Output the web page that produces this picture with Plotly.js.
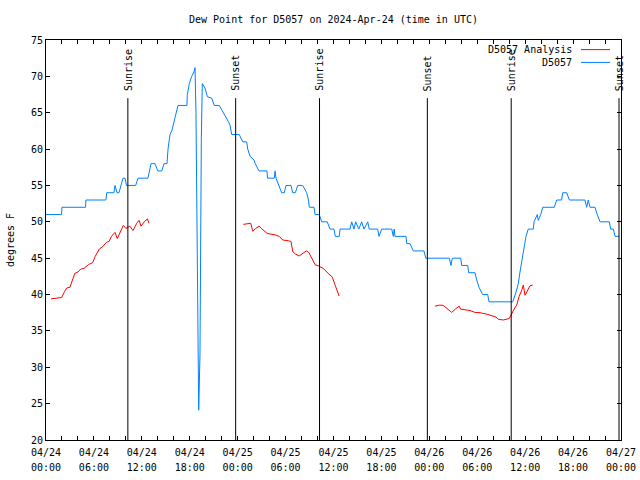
<!DOCTYPE html>
<html>
<head>
<meta charset="utf-8">
<script src="https://cdn.plot.ly/plotly-3.0.1.min.js"></script>
<style>html,body{margin:0;padding:0;background:#fff}#chart{width:640px;height:480px}</style>
</head>
<body>
<div id="chart"></div>
<script>
// Hours since 2024-04-24 00:00 UTC
const obsHours = [0,1.94,2.0,4.95,5.0,7.5,7.6,8.5,8.64,8.9,9.14,9.4,9.64,9.9,10.08,11.23,11.52,12.77,13.15,13.65,14.0,14.5,14.78,15.15,15.28,15.53,15.78,16.15,16.53,17.65,17.69,17.94,18.24,18.53,18.66,18.78,18.87,19.0,19.07,19.12,19.28,19.34,19.45,19.57,19.91,20.2,20.75,21.07,21.7,22.0,22.41,22.83,23.04,23.25,24.2,24.38,24.63,25.13,25.26,25.55,26.05,26.2,26.67,27.67,27.74,28.59,28.68,28.8,29.14,29.51,29.84,30.05,30.68,30.89,31.22,31.52,32.14,32.64,32.87,32.97,33.56,33.69,34.22,34.52,35.22,35.56,36.06,36.22,36.72,36.82,38.07,38.28,38.57,38.78,39.16,39.53,39.82,40.28,40.48,41.53,41.7,42.03,43.29,43.49,43.6,43.7,45.08,45.17,45.58,45.99,47.33,47.55,50.5,50.71,50.88,51.93,52.05,52.8,52.93,53.72,53.93,54.22,54.68,55.31,55.47,58.44,58.82,59.14,59.35,59.64,59.89,60.1,60.39,61.02,61.11,61.36,61.52,61.64,61.95,62.2,63.65,63.95,64.57,64.7,65.2,65.53,67.49,67.7,67.9,68.12,68.75,68.96,69.37,70.54,70.71,71.04,71.25,71.75];
const obsValues = [51,51,52,52,53,53,54,54,55,54,54,55,56,56,55,55,56,56,58,58,57,57,58,58,60,62,62.6,64.3,66,66,67.4,69,70,70.6,71.2,65,53.5,41,29.6,24.1,31.7,46.6,61.5,69,68.4,67.2,67,66,66,65.4,64.7,63.8,63.3,62,62,61.6,61,61,60,59,58.5,58,57,57,56,56,57,56,55,54,54,55,55,54,54,55,55,54,53,52,52,51,51,50,50,49,49,48,48,49,49,50,49,50,49,50,49,50,49,49,48,49,49,48,49,48,48,47,47,46,46,45,45,44,45,45,44,44,43,43,42,41,40,40,39,39,40.2,41.5,43.1,45.2,46.6,48,49,49,50,50.7,51,50.2,51,52,52,53,53,54,54,53,53,52,53,52,52,51.2,50,50,49,49,48,48];

const anaHours = [0.63,1.54,1.97,2.25,2.59,3.0,3.3,3.6,4.0,4.35,4.76,5.3,5.85,6.14,6.67,7.1,7.6,7.9,8.2,8.64,8.93,9.27,9.68,10.0,10.5,10.9,11.36,11.65,11.9,12.3,12.7,12.9,null,
  24.7,25.33,25.63,25.9,26.2,26.7,27.0,27.7,28.26,28.7,29.2,29.64,30.34,30.68,30.9,31.2,31.7,32.1,32.6,32.9,33.35,33.7,34.2,34.7,35.35,35.85,36.2,36.5,36.7,null,
  48.7,49.3,49.75,50.2,50.8,51.3,51.75,51.9,52.47,53.1,53.7,54.35,55.2,55.8,56.35,56.64,57.26,58.0,58.3,58.6,58.94,59.23,59.57,59.77,59.98,60.27,60.6,60.94];
const anaValues = [39.4,39.6,39.6,40.25,40.9,41.0,42.0,42.9,43.1,43.5,43.6,44.1,44.4,45.2,46.25,46.6,47.2,47.3,48.0,48.55,47.7,48.6,49.5,49.1,49.4,48.8,49.8,50.2,49.4,50.0,50.4,49.8,null,
  49.65,49.8,49.8,48.7,49.05,49.4,49.05,48.4,48.3,48.2,48.0,47.5,47.4,47.3,45.9,45.6,45.3,45.6,46.0,45.8,44.75,44.1,43.9,43.6,42.9,42.4,41.3,40.5,39.8,null,
  38.4,38.55,38.5,38.05,37.55,38.05,38.4,38.0,37.9,37.8,37.55,37.5,37.3,37.1,36.9,36.6,36.5,36.7,37.4,37.95,38.55,39.7,40.6,41.3,39.9,40.5,41.2,41.3];

const sunHours = [10.25,23.75,34.25,47.75,58.25,71.75];
const sunLabels = ['Sunrise','Sunset','Sunrise','Sunset','Sunrise','Sunset'];
const sunLineTop = 67;

const tickHours = [0,6,12,18,24,30,36,42,48,54,60,66,72];
const tickDates = ['04/24','04/24','04/24','04/24','04/25','04/25','04/25','04/25','04/26','04/26','04/26','04/26','04/27'];
const tickTimes = ['00:00','06:00','12:00','18:00','00:00','06:00','12:00','18:00','00:00','06:00','12:00','18:00','00:00'];

const seriesNames = ['D5057 Analysis','D5057'];
const seriesColors = ['#ff0000','#0080ff'];

const FONT = {family:'DejaVu Sans Mono, monospace', size:10, color:'#000'};

const traces = [
  {x: anaHours, y: anaValues, xaxis:'x2', yaxis:'y', mode:'lines', name: seriesNames[0], line:{color:seriesColors[0], width:1}, connectgaps:false},
  {x: obsHours, y: obsValues, xaxis:'x', yaxis:'y', mode:'lines', name: seriesNames[1], line:{color:seriesColors[1], width:1}}
];

const shapes = sunHours.map(h => ({type:'line', xref:'x', yref:'y', x0:h, x1:h, y0:20, y1:sunLineTop, line:{color:'#000', width:1}}));
const annotations = sunHours.map((h,i) => ({xref:'x', yref:'y', x:h, y:sunLineTop, text:sunLabels[i], textangle:-90, showarrow:false, xanchor:'center', yanchor:'bottom', yshift:5, font:FONT}));

// legend (text on the left of the sample line, gnuplot style)
const legY = [0.976, 0.944];
seriesNames.forEach((n,i) => {
  annotations.push({xref:'paper', yref:'paper', x:0.9183, y:legY[i], text:n, showarrow:false, xanchor:'right', yanchor:'middle', font:FONT});
  shapes.push({type:'line', xref:'paper', yref:'paper', x0:0.9304, x1:0.9809, y0:legY[i], y1:legY[i], line:{color:seriesColors[i], width:1}});
});

const layout = {
  width:640, height:480,
  margin:{l:46, r:19, t:40, b:40},
  paper_bgcolor:'#fff', plot_bgcolor:'#fff',
  font: FONT,
  showlegend:false,
  title:{text:'Dew Point for D5057 on 2024-Apr-24 (time in UTC)', x:0.5, xref:'paper', xanchor:'center', y:1-19/480, yref:'container', yanchor:'middle', font:FONT},
  xaxis:{range:[0,72], showgrid:false, zeroline:false, showline:true, linecolor:'#000', linewidth:1, mirror:'ticks',
    ticks:'inside', ticklen:4, tickcolor:'#000', tickmode:'array', tickvals:tickHours, ticktext:tickDates, tickfont:FONT, ticklabelstandoff:3,
    minor:{ticks:'inside', ticklen:4, tickcolor:'#000', tickmode:'linear', tick0:0, dtick:2, showgrid:false}},
  xaxis2:{overlaying:'x', matches:'x', anchor:'y', side:'bottom', range:[0,72], showgrid:false, zeroline:false, showline:false,
    ticks:'', tickmode:'array', tickvals:tickHours, ticktext:tickTimes, tickfont:FONT, ticklabelstandoff:20},
  yaxis:{range:[20,75], showgrid:false, zeroline:false, showline:true, linecolor:'#000', linewidth:1, mirror:'ticks',
    ticks:'inside', ticklen:4, tickcolor:'#000', tickmode:'linear', tick0:20, dtick:5, tickfont:FONT,
    title:{text:'degrees F', font:FONT, standoff:14}},
  shapes: shapes,
  annotations: annotations
};

Plotly.newPlot('chart', traces, layout, {staticPlot:true, displayModeBar:false});
</script>
</body>
</html>
